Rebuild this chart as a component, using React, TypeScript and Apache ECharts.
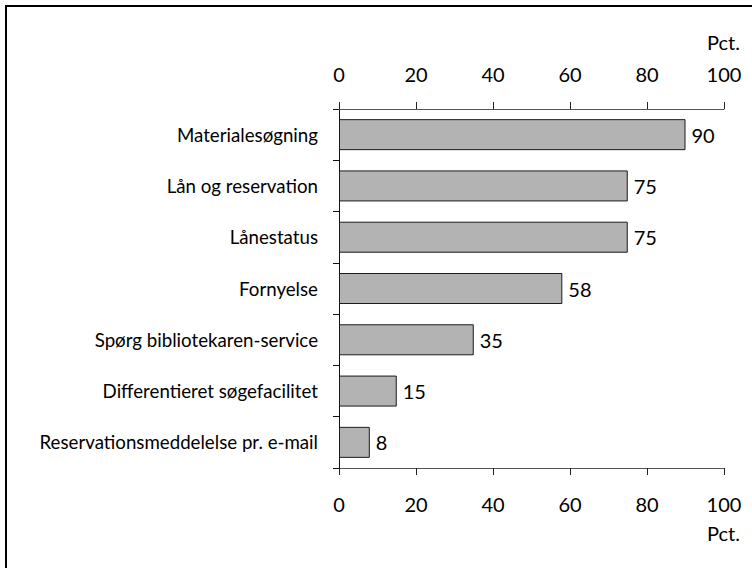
import React, { useEffect, useRef } from "react";
import * as echarts from "echarts";

// Share of respondents using each service (percent)
const categories = [
  "Materialesøgning",
  "Lån og reservation",
  "Lånestatus",
  "Fornyelse",
  "Spørg bibliotekaren-service",
  "Differentieret søgefacilitet",
  "Reservationsmeddelelse pr. e-mail",
];
const values = [90, 75, 75, 58, 35, 15, 8];
const axisMin = 0;
const axisMax = 100;
const axisStep = 20;
const unitLabel = "Pct.";

const FONT = "Lato, 'Open Sans', sans-serif";

export default function App() {
  const ref = useRef<HTMLDivElement>(null);

  useEffect(() => {
    if (!ref.current) return;
    const chart = echarts.init(ref.current, undefined, { renderer: "svg" });

    const valueAxisBase = {
      type: "value" as const,
      min: axisMin,
      max: axisMax,
      interval: axisStep,
      axisLine: { show: true, lineStyle: { color: "#555", width: 1 } },
      axisTick: { show: true, length: 7, lineStyle: { color: "#222", width: 1 } },
      splitLine: { show: false },
    };

    chart.setOption({
      animation: false,
      backgroundColor: "#fff",
      textStyle: { fontFamily: FONT },
      grid: {
        left: 339,
        right: 28,
        top: 109,
        bottom: 100,
        containLabel: false,
        outerBoundsMode: "none",
      },
      xAxis: [
        {
          ...valueAxisBase,
          position: "top",
          axisLabel: { margin: 25, fontSize: 20, color: "#000", fontFamily: FONT },
        },
        {
          ...valueAxisBase,
          position: "bottom",
          axisLabel: { margin: 26, fontSize: 20, color: "#000", fontFamily: FONT },
        },
      ],
      yAxis: {
        type: "category",
        inverse: true,
        data: categories,
        axisLine: { show: true, lineStyle: { color: "#111", width: 1 } },
        axisTick: { show: true, length: 6, lineStyle: { color: "#111" } },
        axisLabel: { margin: 21, fontSize: 18.7, color: "#000", fontFamily: FONT },
      },
      series: [
        {
          type: "bar",
          xAxisIndex: 1,
          data: values,
          barWidth: 31,
          itemStyle: { color: "#b3b3b3", borderColor: "#1a1a1a", borderWidth: 1 },
          label: {
            show: true,
            position: "right",
            distance: 6,
            fontSize: 20,
            color: "#000",
            fontFamily: FONT,
          },
        },
      ],
      graphic: [
        {
          type: "rect",
          z: -1,
          shape: { x: 6, y: 6, width: 900, height: 800 },
          style: { fill: "none", stroke: "#000", lineWidth: 2 },
        },
        {
          type: "text",
          x: 740,
          y: 42,
          style: {
            text: unitLabel,
            fontSize: 20,
            fontFamily: FONT,
            fill: "#000",
            align: "right",
            verticalAlign: "middle",
          },
        },
        {
          type: "text",
          x: 740,
          y: 533,
          style: {
            text: unitLabel,
            fontSize: 20,
            fontFamily: FONT,
            fill: "#000",
            align: "right",
            verticalAlign: "middle",
          },
        },
      ],
    });

    return () => chart.dispose();
  }, []);

  return (
    <div
      ref={ref}
      style={{ position: "fixed", left: 0, top: 0, width: 752, height: 568 }}
    />
  );
}
